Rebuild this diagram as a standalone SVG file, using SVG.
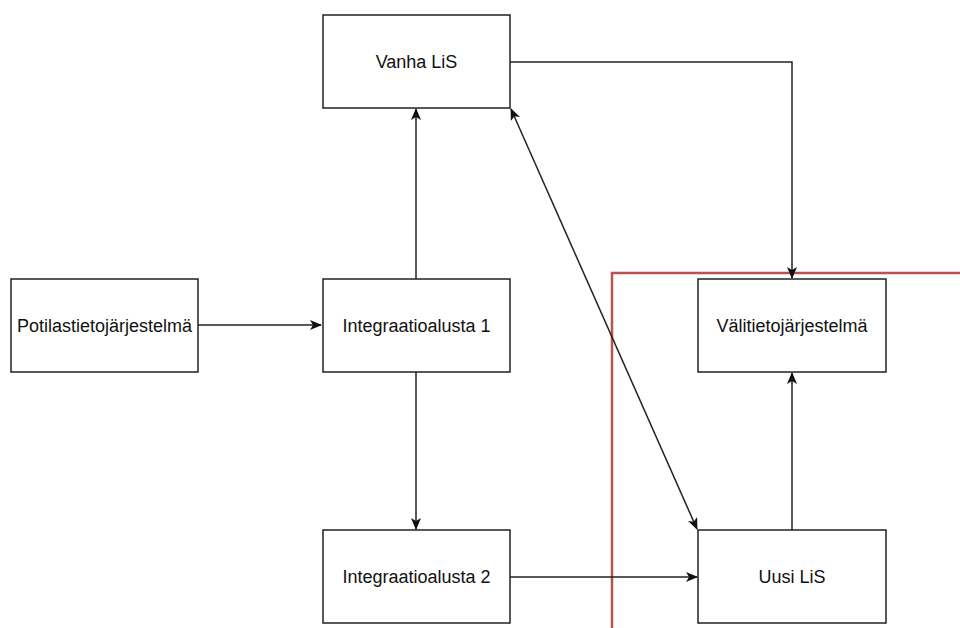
<svg xmlns="http://www.w3.org/2000/svg" width="960" height="628" viewBox="0 0 960 628">
<style>
.box{fill:#fff;stroke:#222;stroke-width:1.5}
.lbl{font-family:"Liberation Sans",Arial,sans-serif;font-size:18px;fill:#111;text-anchor:middle}
.edge{fill:none;stroke:#222;stroke-width:1.5}
</style>
<defs>
<marker id="ah" viewBox="0 0 12 10" refX="11" refY="5" markerWidth="12" markerHeight="10" markerUnits="userSpaceOnUse" orient="auto-start-reverse">
<path d="M0,0 L12,5 L0,10 L3,5 Z" fill="#111"/>
</marker>
</defs>
<rect width="960" height="628" fill="#fff"/>
<rect id="boundary" x="612" y="273" width="360" height="370" fill="none" stroke="#b85450" stroke-width="2.5"/>
<g id="connectors">
<path class="edge" d="M510,62 H792 V278" marker-end="url(#ah)"/>
<path class="edge" d="M416,279 V109" marker-end="url(#ah)"/>
<path class="edge" d="M416,372 V529" marker-end="url(#ah)"/>
<path class="edge" d="M198,325 H321" marker-end="url(#ah)"/>
<path class="edge" d="M510,577 H697" marker-end="url(#ah)"/>
<path class="edge" d="M792,530 V373" marker-end="url(#ah)"/>
<path class="edge" d="M511,109 L697,529" marker-start="url(#ah)" marker-end="url(#ah)"/>
</g>
<g id="vanha"><rect class="box" x="323" y="15" width="187" height="93"/><text class="lbl" x="416.5" y="68">Vanha LiS</text></g>
<g id="potilas"><rect class="box" x="11" y="279" width="187" height="93"/><text class="lbl" x="104.5" y="332">Potilastietojärjestelmä</text></g>
<g id="int1"><rect class="box" x="323" y="279" width="187" height="93"/><text class="lbl" x="416.5" y="332">Integraatioalusta 1</text></g>
<g id="int2"><rect class="box" x="323" y="530" width="187" height="93"/><text class="lbl" x="416.5" y="583">Integraatioalusta 2</text></g>
<g id="vali"><rect class="box" x="698" y="279" width="188" height="93"/><text class="lbl" x="792" y="332">Välitietojärjestelmä</text></g>
<g id="uusi"><rect class="box" x="698" y="530" width="188" height="93"/><text class="lbl" x="792" y="583">Uusi LiS</text></g>
</svg>
